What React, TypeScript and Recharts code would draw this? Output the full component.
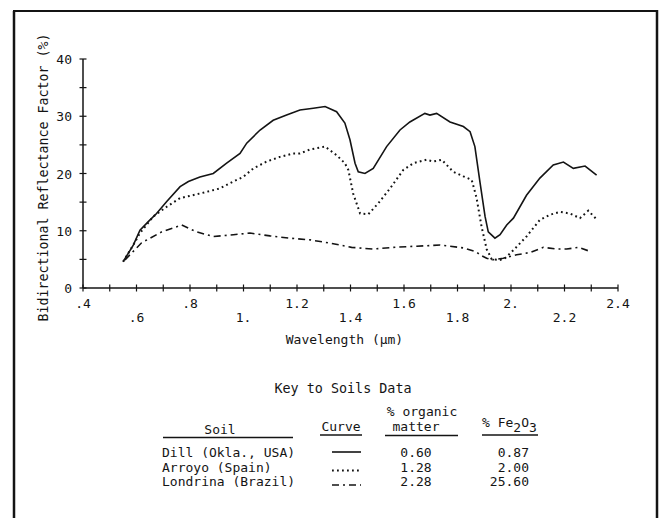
import React from 'react';
import { LineChart, Line, XAxis, YAxis } from 'recharts';

// ---- Data ----
const dillWavelength = [0.55, 0.588, 0.613, 0.644, 0.675, 0.713, 0.763, 0.794, 0.837, 0.887, 0.937, 0.987, 1.012, 1.062, 1.111, 1.161, 1.211, 1.261, 1.305, 1.348, 1.379, 1.398, 1.417, 1.429, 1.454, 1.485, 1.535, 1.585, 1.622, 1.678, 1.697, 1.722, 1.772, 1.822, 1.847, 1.865, 1.884, 1.903, 1.915, 1.94, 1.959, 1.984, 2.009, 2.058, 2.108, 2.158, 2.196, 2.233, 2.277, 2.32];
const dillReflectance = [4.6, 7.5, 10.1, 11.6, 13.0, 15.1, 17.7, 18.6, 19.4, 20.0, 21.8, 23.5, 25.3, 27.6, 29.3, 30.2, 31.1, 31.4, 31.7, 30.8, 28.8, 25.9, 21.8, 20.3, 20.0, 20.9, 24.7, 27.6, 29.0, 30.5, 30.2, 30.5, 29.0, 28.2, 27.3, 24.7, 18.5, 12.5, 9.8, 8.7, 9.3, 11.0, 12.2, 16.2, 19.2, 21.5, 22.0, 20.9, 21.3, 19.7];

const arroyoWavelength = [0.55, 0.588, 0.613, 0.663, 0.713, 0.763, 0.837, 0.912, 0.962, 0.999, 1.037, 1.087, 1.136, 1.186, 1.211, 1.249, 1.305, 1.348, 1.379, 1.392, 1.41, 1.436, 1.467, 1.504, 1.548, 1.597, 1.635, 1.684, 1.709, 1.741, 1.784, 1.822, 1.853, 1.871, 1.89, 1.909, 1.928, 1.959, 1.978, 2.009, 2.058, 2.108, 2.146, 2.183, 2.221, 2.258, 2.289, 2.32];
const arroyoReflectance = [4.6, 7.5, 9.6, 12.5, 14.2, 15.7, 16.5, 17.4, 18.6, 19.4, 20.9, 22.1, 22.9, 23.5, 23.5, 24.2, 24.7, 23.2, 21.8, 20.6, 16.5, 13.0, 12.9, 14.8, 17.4, 20.6, 21.8, 22.4, 22.1, 22.4, 20.3, 19.5, 18.9, 15.8, 10.7, 6.8, 5.0, 4.9, 5.2, 6.6, 9.0, 11.9, 12.8, 13.3, 13.0, 12.2, 13.5, 12.0];

const londrinaWavelength = [0.557, 0.619, 0.694, 0.769, 0.825, 0.887, 0.962, 1.024, 1.099, 1.174, 1.249, 1.329, 1.404, 1.485, 1.56, 1.647, 1.735, 1.822, 1.871, 1.884, 1.909, 1.928, 1.971, 2.021, 2.071, 2.121, 2.171, 2.208, 2.252, 2.289];
const londrinaReflectance = [4.9, 7.9, 9.8, 11.0, 9.8, 9.0, 9.3, 9.6, 9.1, 8.7, 8.4, 7.8, 7.1, 6.8, 7.1, 7.3, 7.5, 7.0, 6.3, 5.8, 5.2, 4.9, 5.2, 5.8, 6.2, 7.1, 6.8, 6.8, 7.1, 6.5];

const xTicks = [0.4, 0.5, 0.6, 0.7, 0.8, 0.9, 1.0, 1.1, 1.2, 1.3, 1.4, 1.5, 1.6, 1.7, 1.8, 1.9, 2.0, 2.1, 2.2, 2.3, 2.4];
const xTickLabels = ['.4', '', '.6', '', '.8', '', '1.', '', '1.2', '', '1.4', '', '1.6', '', '1.8', '', '2.', '', '2.2', '', '2.4'];
const yTicks = [0, 5, 10, 15, 20, 25, 30, 35, 40];
const yTickLabels = ['0', '', '10', '', '20', '', '30', '', '40'];

const soilNames = ['Dill (Okla., USA)', 'Arroyo (Spain)', 'Londrina (Brazil)'];
const organicMatter = ['0.60', '1.28', '2.28'];
const ironOxide = ['0.87', '2.00', '25.60'];

const toPoints = (xs: number[], ys: number[]) => xs.map((x, i) => ({ x, y: ys[i] }));
const dillData = toPoints(dillWavelength, dillReflectance);
const arroyoData = toPoints(arroyoWavelength, arroyoReflectance);
const londrinaData = toPoints(londrinaWavelength, londrinaReflectance);

const INK = '#141414';
const FONT = '"DejaVu Sans Mono", "Liberation Mono", monospace';
const FS = 13;

const curveStyles = [
  { strokeWidth: 1.6, dash: undefined as string | undefined },
  { strokeWidth: 2, dash: '1.8 3.2' },
  { strokeWidth: 1.6, dash: '7 4 2 4' },
];

const XTick = (props: any) => {
  const { x, y, index } = props;
  const label = xTickLabels[index] || '';
  const row = Math.round(index / 2) % 2;
  return (
    <g>
      <line x1={x} x2={x} y1={y - 3.5} y2={y + 3.5} stroke={INK} strokeWidth={1.2} />
      {label && (
        <text x={x} y={y + (row === 0 ? 20 : 34)} textAnchor="middle" fontFamily={FONT} fontSize={FS} fill={INK}>
          {label}
        </text>
      )}
    </g>
  );
};

const YTick = (props: any) => {
  const { x, y, index } = props;
  const label = yTickLabels[index] || '';
  return (
    <g>
      <line x1={x - 3.5} x2={x + 3.5} y1={y} y2={y} stroke={INK} strokeWidth={1.2} />
      {label && (
        <text x={x - 11} y={y + 5} textAnchor="end" fontFamily={FONT} fontSize={FS} fill={INK}>
          {label}
        </text>
      )}
    </g>
  );
};

export default function App() {
  const rowY = [457, 471.5, 486];
  return (
    <div style={{ position: 'absolute', left: 0, top: 0, width: 660, height: 518, background: '#fff' }}>
      <LineChart width={660} height={518} margin={{ top: 59, right: 42, bottom: 200, left: 23 }}>
        <XAxis
          type="number"
          dataKey="x"
          domain={[0.4, 2.4]}
          ticks={xTicks}
          interval={0}
          height={30}
          tickLine={false}
          tickSize={0}
          tickMargin={0}
          tick={<XTick />}
          axisLine={{ stroke: INK, strokeWidth: 1.5 }}
          allowDataOverflow
          label={{
            content: (p: any) => {
              const vb = p.viewBox || {};
              return (
                <text x={vb.x + vb.width / 2 - 6} y={vb.y + 56} textAnchor="middle" fontFamily={FONT} fontSize={FS} fill={INK}>
                  Wavelength (µm)
                </text>
              );
            },
          }}
        />
        <YAxis
          type="number"
          dataKey="y"
          domain={[0, 40]}
          ticks={yTicks}
          interval={0}
          width={60}
          tickLine={false}
          tickSize={0}
          tickMargin={0}
          tick={<YTick />}
          axisLine={{ stroke: INK, strokeWidth: 1.5 }}
          allowDataOverflow
          label={{
            content: (p: any) => {
              const vb = p.viewBox || {};
              const cx = vb.x + vb.width - 35;
              const cy = vb.y + vb.height / 2 + 4;
              return (
                <text x={cx} y={cy} transform={`rotate(-90 ${cx} ${cy})`} textAnchor="middle" fontFamily={FONT} fontSize={13.3} fill={INK}>
                  Bidirectional Reflectance Factor (%)
                </text>
              );
            },
          }}
        />
        <Line data={dillData} dataKey="y" type="linear" stroke={INK} strokeWidth={curveStyles[0].strokeWidth} dot={false} isAnimationActive={false} />
        <Line data={arroyoData} dataKey="y" type="linear" stroke={INK} strokeWidth={curveStyles[1].strokeWidth} strokeDasharray={curveStyles[1].dash} dot={false} isAnimationActive={false} />
        <Line data={londrinaData} dataKey="y" type="linear" stroke={INK} strokeWidth={curveStyles[2].strokeWidth} strokeDasharray={curveStyles[2].dash} dot={false} isAnimationActive={false} />
      </LineChart>
      <svg width={660} height={518} style={{ position: 'absolute', left: 0, top: 0, pointerEvents: 'none' }}>
        {/* frame */}
        <line x1={14} y1={11} x2={14} y2={520} stroke={INK} strokeWidth={2.5} />
        <line x1={13} y1={11} x2={658} y2={11} stroke={INK} strokeWidth={2} />
        <line x1={657} y1={10} x2={657} y2={520} stroke={INK} strokeWidth={2.5} />
        {/* key */}
        <g fontFamily={FONT} fontSize={FS} fill={INK}>
          <text x={343} y={393} textAnchor="middle" fontSize={13.4}>Key to Soils Data</text>
          <text x={220} y={434} textAnchor="middle">Soil</text>
          <text x={341} y={431} textAnchor="middle">Curve</text>
          <text x={422} y={416} textAnchor="middle">% organic</text>
          <text x={416} y={431} textAnchor="middle">matter</text>
          <text x={482} y={427}>
            % Fe<tspan dy={5}>2</tspan><tspan dy={-5}>O</tspan><tspan dy={5}>3</tspan>
          </text>
          <line x1={163} x2={293} y1={437.5} y2={437.5} stroke={INK} strokeWidth={1.6} />
          <line x1={320} x2={362} y1={435} y2={435} stroke={INK} strokeWidth={1.6} />
          <line x1={385} x2={458} y1={435.5} y2={435.5} stroke={INK} strokeWidth={1.6} />
          <line x1={482} x2={538} y1={435} y2={435} stroke={INK} strokeWidth={1.6} />
          {soilNames.map((name, i) => (
            <g key={name}>
              <text x={162} y={rowY[i]}>{name}</text>
              <line
                x1={332}
                x2={361}
                y1={rowY[i] - (i === 0 ? 5 : 1)}
                y2={rowY[i] - (i === 0 ? 5 : 1)}
                stroke={INK}
                strokeWidth={curveStyles[i].strokeWidth}
                strokeDasharray={curveStyles[i].dash}
              />
              <text x={416} y={rowY[i]} textAnchor="middle">{organicMatter[i]}</text>
              <text x={529} y={rowY[i]} textAnchor="end">{ironOxide[i]}</text>
            </g>
          ))}
        </g>
      </svg>
    </div>
  );
}
